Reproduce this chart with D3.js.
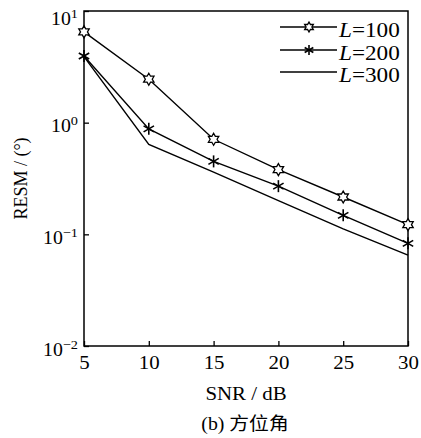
<!DOCTYPE html>
<html>
<head>
<meta charset="utf-8">
<script src="https://cdn.jsdelivr.net/npm/d3@7"></script>
<style>
  body { margin: 0; background: #fff; }
  text { font-family: "Liberation Serif", "Times New Roman", serif; fill: #000; }
</style>
</head>
<body>
<svg id="chart" width="421" height="438"></svg>
<script>
// data
const snr = [5, 10, 15, 20, 25, 30];
const rmseL100 = [6.5, 2.45, 0.71, 0.38, 0.216, 0.122];
const rmseL200 = [3.95, 0.88, 0.45, 0.27, 0.148, 0.083];
const rmseL300 = [3.9, 0.64, 0.36, 0.20, 0.112, 0.065];
const seriesNames = ["100", "200", "300"];
const xTicks = [5, 10, 15, 20, 25, 30];
const yTicks = [0.01, 0.1, 1, 10];

const svg = d3.select("#chart");
const m = { left: 84, right: 13, top: 11, bottom: 92 };
const W = 421, H = 438;
const SX = 1.16; // the original glyphs are a bit wide

const x = d3.scaleLinear().domain([5, 30]).range([m.left, W - m.right]);
const y = d3.scaleLog().domain([0.01, 10]).range([H - m.bottom, m.top]);

// horizontal text, stretched like the source
function htext(px, py, size, anchor, sx) {
  return svg.append("text")
    .attr("transform", `translate(${px},${py}) scale(${sx || SX},1)`)
    .attr("text-anchor", anchor).attr("font-size", size);
}

// frame
svg.append("rect")
  .attr("x", x(5)).attr("y", y(10))
  .attr("width", x(30) - x(5)).attr("height", y(0.01) - y(10))
  .attr("fill", "none").attr("stroke", "#000").attr("stroke-width", 1.5);

// x ticks (inward) + labels
const xAxis = svg.append("g").attr("transform", `translate(0,${y(0.01)})`)
  .call(d3.axisBottom(x).tickValues(xTicks).tickSize(-5).tickPadding(10).tickFormat(d3.format("d")));
xAxis.select(".domain").remove();
xAxis.selectAll("line").attr("stroke-width", 1.3);
xAxis.selectAll("text").attr("font-size", 18).attr("font-family", "Liberation Serif")
  .attr("transform", `scale(${SX},1)`);

// y ticks (inward)
const yAxis = svg.append("g").attr("transform", `translate(${x(5)},0)`)
  .call(d3.axisLeft(y).tickValues(yTicks).tickSize(-5).tickFormat(""));
yAxis.select(".domain").remove();
yAxis.selectAll("line").attr("stroke-width", 1.3);

// y tick labels as 10^n
yTicks.forEach(v => {
  const e = Math.round(Math.log10(v));
  const base = y(v) + (v === 10 ? 14 : 9.5);
  const t = htext(78, base, 18, "end", 1.1);
  t.append("tspan").text("10");
  t.append("tspan").attr("font-size", 13).attr("dy", -7)
    .text(e < 0 ? "\u2212" + (-e) : e);
});

// lines
const line = d3.line().x((d, i) => x(snr[i])).y(d => y(d));
const allSeries = [rmseL100, rmseL200, rmseL300];
allSeries.forEach(s => {
  svg.append("path").datum(s).attr("d", line)
    .attr("fill", "none").attr("stroke", "#000").attr("stroke-width", 1.4);
});

// markers
function hexagram(g, cx, cy, r) {
  const pts = [];
  const ri = r / Math.sqrt(3);
  for (let k = 0; k < 6; k++) {
    const ao = k * Math.PI / 3;
    const ai = ao + Math.PI / 6;
    pts.push([cx + r * Math.sin(ao), cy - r * Math.cos(ao)]);
    pts.push([cx + ri * Math.sin(ai), cy - ri * Math.cos(ai)]);
  }
  g.append("polygon").attr("points", pts.map(p => p.join(",")).join(" "))
    .attr("fill", "#fff").attr("stroke", "#000").attr("stroke-width", 1.3);
}
function asterisk(g, cx, cy, r) {
  [90, 30, -30].forEach(a => {
    const rad = a * Math.PI / 180;
    g.append("line")
      .attr("x1", cx - r * Math.cos(rad)).attr("y1", cy - r * Math.sin(rad))
      .attr("x2", cx + r * Math.cos(rad)).attr("y2", cy + r * Math.sin(rad))
      .attr("stroke", "#000").attr("stroke-width", 1.6);
  });
}
const mk = svg.append("g");
rmseL100.forEach((v, i) => hexagram(mk, x(snr[i]), y(v), 6));
rmseL200.forEach((v, i) => asterisk(mk, x(snr[i]), y(v), 6));

// legend
const lg = svg.append("g");
const legY = [27, 50, 72];
seriesNames.forEach((n, i) => {
  lg.append("line").attr("x1", 280).attr("x2", 337).attr("y1", legY[i]).attr("y2", legY[i])
    .attr("stroke", "#000").attr("stroke-width", 1.4);
  if (i === 0) hexagram(lg, 309, legY[i], 5);
  if (i === 1) asterisk(lg, 309, legY[i], 5);
  const t = htext(339, legY[i] + 10, 20, "start");
  t.append("tspan").attr("font-style", "italic").text("L");
  t.append("tspan").text("=" + n);
});

// axis titles
htext((x(5) + x(30)) / 2, 400, 18, "middle").text("SNR / dB");
svg.append("text").attr("transform", `translate(27,${(y(10) + y(0.01)) / 2}) rotate(-90)`)
  .attr("text-anchor", "middle").attr("font-size", 18).text("RESM / (°)");

// caption
const cap = htext((x(5) + x(30)) / 2 - 1, 430, 18, "middle", 1.1);
cap.append("tspan").text("(b) ");
cap.append("tspan").attr("font-family", "Noto Sans CJK SC").text("方位角");
</script>
</body>
</html>
